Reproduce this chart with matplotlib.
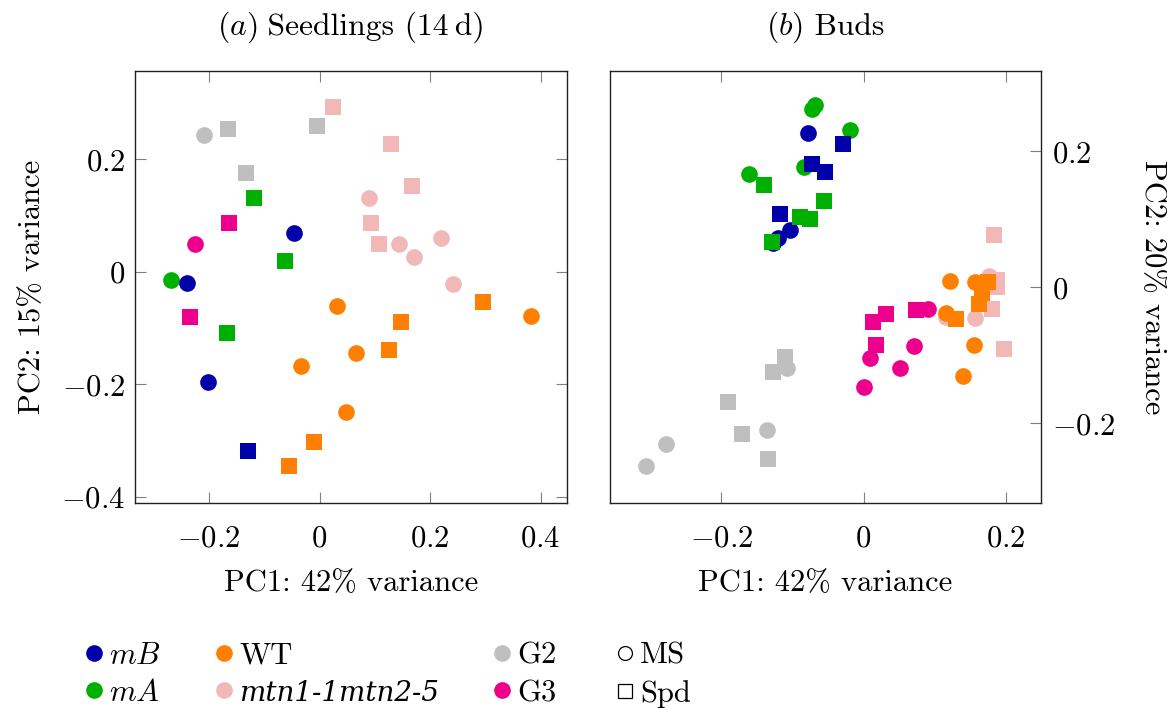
import matplotlib
matplotlib.use('Agg')
import matplotlib.pyplot as plt
from matplotlib.lines import Line2D
from matplotlib.transforms import offset_copy

# (a) Seedlings (14 d) -- (PC1, PC2) per group, MS = circles, Spd = squares
seed_mB_ms = [(-0.047, 0.069), (-0.240, -0.019), (-0.202, -0.196)]
seed_mB_spd = [(-0.129, -0.319)]
seed_mA_ms = [(-0.268, -0.015)]
seed_mA_spd = [(-0.119, 0.132), (-0.063, 0.020), (-0.167, -0.108)]
seed_wt_ms = [(0.031, -0.060), (0.382, -0.078), (0.066, -0.145), (-0.034, -0.168), (0.047, -0.249)]
seed_wt_spd = [(0.296, -0.053), (0.147, -0.090), (0.125, -0.139), (-0.010, -0.302), (-0.056, -0.345)]
seed_mtn_ms = [(0.089, 0.132), (0.144, 0.050), (0.171, 0.027), (0.219, 0.060), (0.242, -0.021)]
seed_mtn_spd = [(0.025, 0.293), (0.130, 0.227), (0.167, 0.152), (0.094, 0.087), (0.107, 0.050)]
seed_g2_ms = [(-0.209, 0.244)]
seed_g2_spd = [(-0.165, 0.254), (-0.004, 0.260), (-0.133, 0.176)]
seed_g3_ms = [(-0.226, 0.049)]
seed_g3_spd = [(-0.164, 0.086), (-0.235, -0.080)]

# (b) Buds
bud_mB_ms = [(-0.078, 0.227), (-0.103, 0.084), (-0.120, 0.072), (-0.127, 0.065)]
bud_mB_spd = [(-0.029, 0.211), (-0.072, 0.181), (-0.054, 0.169), (-0.118, 0.108)]
bud_mA_ms = [(-0.068, 0.268), (-0.072, 0.262), (-0.019, 0.231), (-0.083, 0.177), (-0.161, 0.167)]
bud_mA_spd = [(-0.140, 0.150), (-0.056, 0.127), (-0.090, 0.104), (-0.075, 0.101), (-0.129, 0.066)]
bud_wt_ms = [(0.122, 0.010), (0.156, 0.008), (0.116, -0.037), (0.155, -0.084), (0.140, -0.131)]
bud_wt_spd = [(0.175, 0.008), (0.166, -0.009), (0.162, -0.024), (0.130, -0.047)]
bud_mtn_ms = [(0.176, 0.017), (0.156, -0.045), (0.116, -0.043)]
bud_mtn_spd = [(0.184, 0.077), (0.188, 0.011), (0.188, 0.000), (0.181, -0.032), (0.197, -0.091)]
bud_g2_ms = [(-0.107, -0.118), (-0.136, -0.210), (-0.278, -0.230), (-0.306, -0.263)]
bud_g2_spd = [(-0.110, -0.102), (-0.127, -0.125), (-0.190, -0.168), (-0.171, -0.216), (-0.134, -0.253)]
bud_g3_ms = [(0.091, -0.032), (0.009, -0.1035), (0.071, -0.086), (0.051, -0.119), (0.000, -0.147)]
bud_g3_spd = [(0.031, -0.039), (0.0135, -0.0515), (0.074, -0.034), (0.017, -0.084)]

seed_xticks = [-0.2, 0, 0.2, 0.4]
seed_xlabels = ['$-0.2$', '$0$', '$0.2$', '$0.4$']
seed_yticks = [-0.4, -0.2, 0, 0.2]
seed_ylabels = ['$-0.4$', '$-0.2$', '$0$', '$0.2$']
bud_xticks = [-0.2, 0, 0.2]
bud_xlabels = ['$-0.2$', '$0$', '$0.2$']
bud_yticks = [-0.2, 0, 0.2]
bud_ylabels = ['$-0.2$', '$0$', '$0.2$']

group_labels = ['$mB$', '$mA$', 'WT', 'mtn1-1mtn2-5', 'G2', 'G3']
type_labels = ['MS', 'Spd']

c_mB = '#0000AA'
c_mA = '#00B000'
c_wt = '#FF8000'
c_mtn = '#F2B8B8'
c_g2 = '#BFBFBF'
c_g3 = '#EC008C'

plt.rcParams['font.family'] = ['cmr10', 'DejaVu Sans']
plt.rcParams['mathtext.fontset'] = 'cm'
plt.rcParams['font.size'] = 22

MS = 12


def draw(ax, pts, marker, color):
    xs = [p[0] for p in pts]
    ys = [p[1] for p in pts]
    ax.plot(xs, ys, ls='none', marker=marker, ms=MS, mew=0, color=color)


def style(ax):
    for s in ax.spines.values():
        s.set_color('#222222')
        s.set_linewidth(1.0)
    ax.tick_params(direction='in', length=8, width=0.8, color='#808080', labelsize=22)


def title(ax, ital, rest):
    # italic "(a)" followed by roman text, centred over the axes
    r = fig.canvas.get_renderer()
    ta = ax.text(0.5, 1, ital, transform=ax.transAxes, ha='left', va='baseline', fontsize=22.8)
    tb = ax.text(0.5, 1, rest, transform=ax.transAxes, ha='left', va='baseline', fontsize=22.8)
    wa = ta.get_window_extent(r).width
    wb = tb.get_window_extent(r).width
    x0 = -(wa + wb) / 2
    ta.set_transform(offset_copy(ax.transAxes, fig, x=x0, y=36.5, units='dots'))
    tb.set_transform(offset_copy(ax.transAxes, fig, x=x0 + wa, y=36.5, units='dots'))


fig = plt.figure(figsize=(11.67, 7.08), dpi=100)
ax1 = fig.add_axes([0.1157, 0.2895, 0.3702, 0.6102])
ax2 = fig.add_axes([0.5223, 0.2895, 0.3695, 0.6102])

groups = [
    (ax1, [(seed_mA_ms, c_mA), (seed_mB_ms, c_mB), (seed_mtn_ms, c_mtn), (seed_wt_ms, c_wt), (seed_g2_ms, c_g2)],
     [(seed_mB_spd, c_mB), (seed_mA_spd, c_mA), (seed_mtn_spd, c_mtn), (seed_wt_spd, c_wt), (seed_g2_spd, c_g2)],
     seed_g3_ms, seed_g3_spd),
    (ax2, [(bud_mA_ms, c_mA), (bud_mB_ms, c_mB), (bud_mtn_ms, c_mtn), (bud_wt_ms, c_wt), (bud_g2_ms, c_g2)],
     [(bud_mB_spd, c_mB), (bud_mA_spd, c_mA), (bud_mtn_spd, c_mtn), (bud_wt_spd, c_wt), (bud_g2_spd, c_g2)],
     bud_g3_ms, bud_g3_spd),
]
for ax, circles, squares, g3_ms, g3_spd in groups:
    for pts, c in circles:
        draw(ax, pts, 'o', c)
    for pts, c in squares:
        draw(ax, pts, 's', c)
    draw(ax, g3_spd, 's', c_g3)
    draw(ax, g3_ms, 'o', c_g3)
    style(ax)

ax1.set_xlim(-0.334, 0.448)
ax1.set_ylim(-0.411, 0.357)
ax1.set_xticks(seed_xticks, seed_xlabels)
ax1.set_yticks(seed_yticks, seed_ylabels)
ax1.tick_params(axis='x', top=True, pad=16)
ax1.tick_params(axis='y', right=True, pad=7)
ax1.set_xlabel('PC1: 42% variance', labelpad=12)
ax1.set_ylabel('PC2: 15% variance', labelpad=11)
title(ax1, '$(a)$', ' Seedlings (14\u2009d)')

ax2.set_xlim(-0.357, 0.249)
ax2.set_ylim(-0.317, 0.318)
ax2.set_xticks(bud_xticks, bud_xlabels)
ax2.set_yticks(bud_yticks, bud_ylabels)
ax2.tick_params(axis='x', top=True, pad=16)
ax2.tick_params(axis='y', left=False, right=True, labelleft=False, labelright=True, pad=8)
ax2.yaxis.set_label_position('right')
ax2.set_xlabel('PC1: 42% variance', labelpad=12)
ax2.set_ylabel('PC2: 20% variance', rotation=-90, va='bottom', labelpad=17)
title(ax2, '$(b)$', ' Buds')

leg_kw = dict(loc='upper left', frameon=False, handlelength=0.73, handletextpad=0.13,
              columnspacing=1.69, labelspacing=0.33, borderpad=0, borderaxespad=0, fontsize=22)
cols = [c_mB, c_mA, c_wt, c_mtn, c_g2, c_g3]
handles = [Line2D([], [], ls='none', marker='o', ms=MS, mew=0, color=c) for c in cols]
leg = fig.legend(handles, group_labels, bbox_to_anchor=(0.071, 0.093), ncol=3, **leg_kw)
t = leg.get_texts()[3]
t.set_fontfamily('DejaVu Serif')
t.set_fontstyle('italic')
t.set_fontsize(20)

type_handles = [Line2D([], [], ls='none', marker='o', ms=10, mfc='none', mec='black', mew=0.9),
                Line2D([], [], ls='none', marker='s', ms=10, mfc='none', mec='black', mew=0.9)]
fig.legend(type_handles, type_labels, bbox_to_anchor=(0.526, 0.093), ncol=1, **leg_kw)

fig.savefig('out.png', dpi=100)
